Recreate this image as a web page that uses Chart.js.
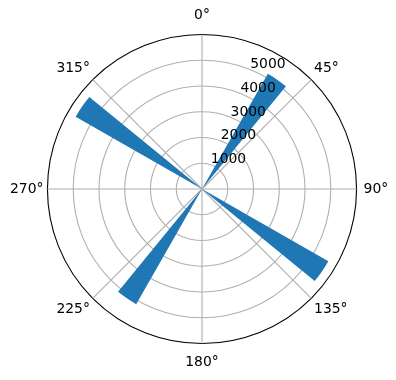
<!DOCTYPE html>
<html>
<head>
<meta charset="utf-8">
<script src="https://cdn.jsdelivr.net/npm/chart.js@4"></script>
<style>
  html, body { margin: 0; padding: 0; background: #fff; }
  #wrap { width: 396px; height: 380px; }
</style>
</head>
<body>
<div id="wrap"><canvas id="polarChart"></canvas></div>
<script>
// Direction labels (clockwise from north)
const thetaLabels = ['0°', '45°', '90°', '135°', '180°', '225°', '270°', '315°'];
// Bar centres in degrees and their heights
const barAngles = [34.5, 124.5, 214.5, 304.5];
const barValues = [5150, 5650, 5150, 5650];
const barWidth = 9.5;
// Radial tick labels
const radialTicks = [1000, 2000, 3000, 4000, 5000];
const radialMax = 6000;

const FONT = "'DejaVu Sans', sans-serif";

// Build segments: an empty gap before each bar so the bars sit at their angles
const segments = [];
let prev = 0;
barAngles.forEach((a, i) => {
    segments.push({ value: 0, angle: a - barWidth / 2 - prev });
    segments.push({ value: barValues[i], angle: barWidth });
    prev = a + barWidth / 2;
});

// Horizontal radial tick labels along the 22.5 degree direction
const tickLabelPlugin = {
    id: 'tickLabels',
    afterDraw(chart) {
        const s = chart.scales.r;
        const ctx = chart.ctx;
        const rad = 22.5 * Math.PI / 180;
        ctx.save();
        ctx.font = '13.9px ' + FONT;
        ctx.fillStyle = '#000';
        ctx.textAlign = 'left';
        ctx.textBaseline = 'alphabetic';
        radialTicks.forEach(v => {
            const d = s.getDistanceFromCenterForValue(v);
            const x = s.xCenter + d * Math.sin(rad);
            const y = s.yCenter - d * Math.cos(rad);
            ctx.fillText(String(v), x - 1, y - 2);
        });
        ctx.restore();
    }
};

const labelPad = [11, 4, 7, 4, 11, 4, 4, 4];

new Chart(document.getElementById('polarChart'), {
    type: 'polarArea',
    data: {
        labels: thetaLabels,
        datasets: [{
            data: segments.map(s => s.value),
            angle: ctx => segments[ctx.dataIndex].angle,
            backgroundColor: '#1f77b4',
            borderWidth: 0
        }]
    },
    options: {
        responsive: true,
        maintainAspectRatio: false,
        animation: false,
        events: [],
        layout: { padding: { left: 8, right: 4, top: 0, bottom: 0 } },
        plugins: {
            legend: { display: false },
            tooltip: { enabled: false }
        },
        scales: {
            r: {
                z: 1,
                min: 0,
                max: radialMax,
                startAngle: 0,
                ticks: { display: false, stepSize: 1000 },
                grid: {
                    circular: true,
                    color: c => c.tick && c.tick.value === radialMax ? '#000' : '#b0b0b0',
                    lineWidth: 1.1
                },
                angleLines: { display: true, color: '#b0b0b0', lineWidth: 1.1 },
                pointLabels: {
                    display: true,
                    color: '#000',
                    font: { family: FONT, size: 13.9 },
                    padding: c => labelPad[c.index]
                }
            }
        }
    },
    plugins: [tickLabelPlugin]
});
</script>
</body>
</html>
